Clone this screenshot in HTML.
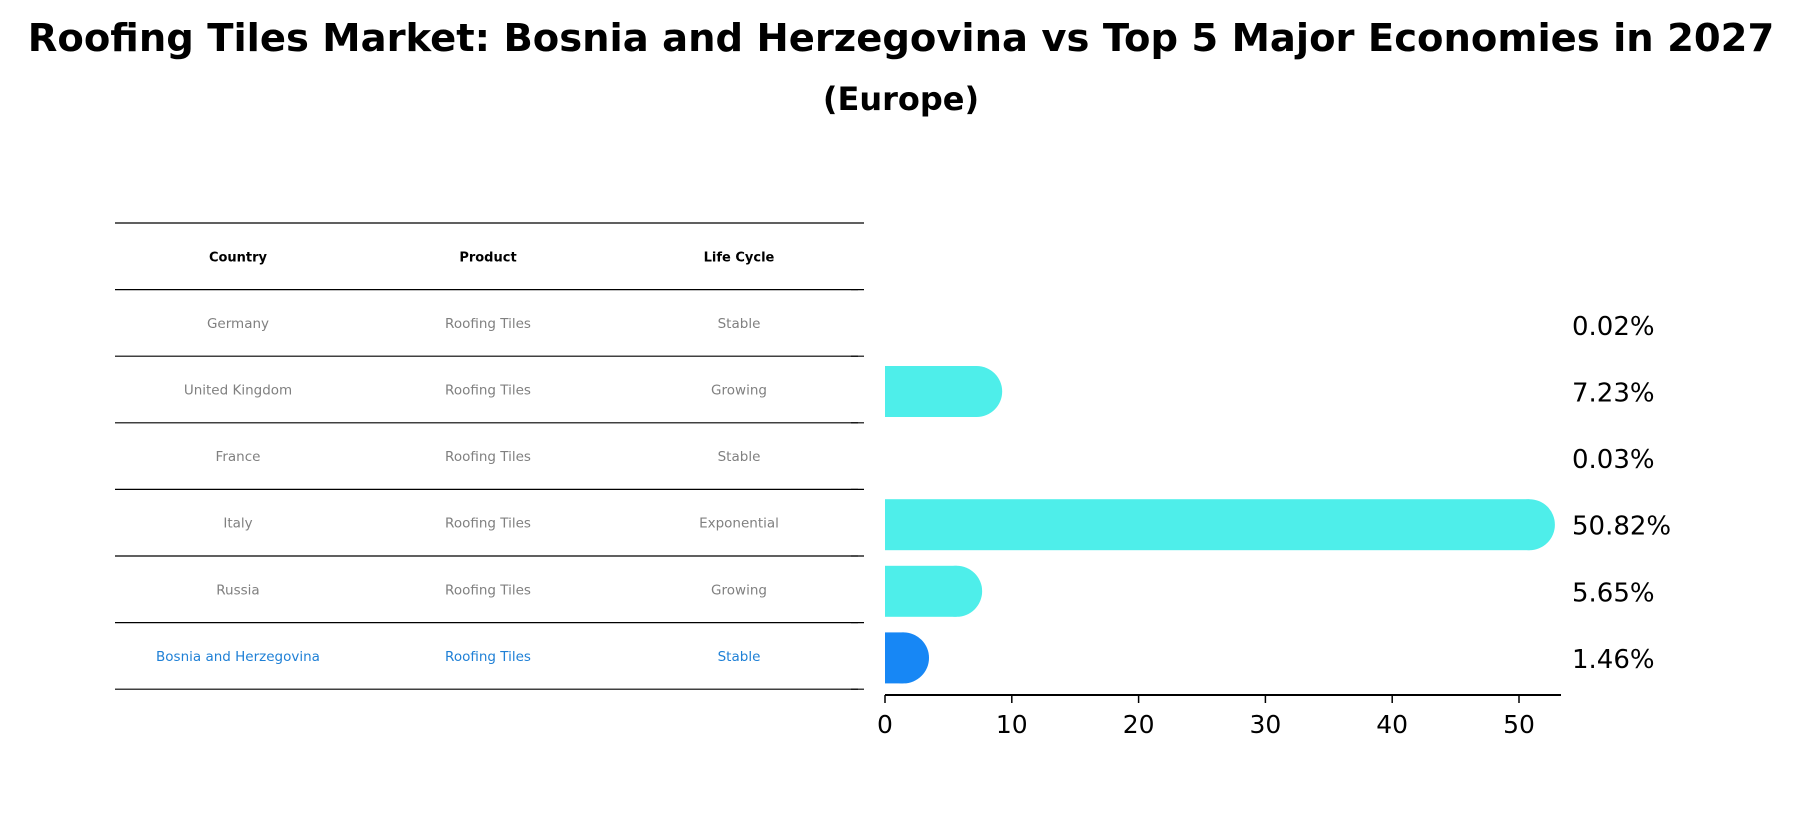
<!DOCTYPE html>
<html><head><meta charset="utf-8"><style>
body{margin:0;background:#fff;}
svg{display:block;font-family:"DejaVu Sans","Liberation Sans",sans-serif;}
</style></head><body>
<svg id="c" width="1802" height="823" viewBox="0 0 1802 823">
<text x="901" y="51" text-anchor="middle" font-size="38.5" font-weight="bold">Roofing Tiles Market: Bosnia and Herzegovina vs Top 5 Major Economies in 2027</text>
<text x="901" y="110" text-anchor="middle" font-size="32" font-weight="bold">(Europe)</text>
<g id="table"></g>
<g id="bars"></g>
</svg>
<script>
const countries=["Germany","United Kingdom","France","Italy","Russia","Bosnia and Herzegovina"];
const products=["Roofing Tiles","Roofing Tiles","Roofing Tiles","Roofing Tiles","Roofing Tiles","Roofing Tiles"];
const lifeCycles=["Stable","Growing","Stable","Exponential","Growing","Stable"];
const values=[0.02,7.23,0.03,50.82,5.65,1.46];
const labels=["0.02%","7.23%","0.03%","50.82%","5.65%","1.46%"];
const ticks=[0,10,20,30,40,50];
const NS="http://www.w3.org/2000/svg";
function mk(t,a,p){const e=document.createElementNS(NS,t);for(const k in a)e.setAttribute(k,a[k]);p.appendChild(e);return e;}
const tbl=document.getElementById('table'),bars=document.getElementById('bars');
const top0=223,rowH=66.6,colX=[238,488,739];
function rowY(i){return top0+rowH*(i+1.5);}
for(let i=0;i<=countries.length+1;i++){const l=mk('line',{x1:115,x2:864,y1:top0+rowH*i,y2:top0+rowH*i,stroke:'#000','stroke-width':1.2},tbl);

}
["Country","Product","Life Cycle"].forEach((h,j)=>{const t=mk('text',{x:colX[j],y:top0+rowH*0.5+5,'text-anchor':'middle','font-size':13,'font-weight':'bold'},tbl);t.textContent=h;

});
countries.forEach((c,i)=>{const last=i===countries.length-1;const col=last?'#1f80d6':'#808080';
[c,products[i],lifeCycles[i]].forEach((v,j)=>{const t=mk('text',{x:colX[j],y:rowY(i)+5,'text-anchor':'middle','font-size':13.5,fill:col},tbl);t.textContent=v;

});});
const x0=885,sc=(1519-885)/50,axY=695,bh=51;
function X(v){return x0+v*sc;}
countries.forEach((c,i)=>{const cy=rowY(i)+2,last=i===countries.length-1;const col=last?'#1787f5':'#4eeeea';
const g=mk('g',{},bars);
if(values[i]>0.5){
mk('rect',{x:x0,y:cy-bh/2,width:X(values[i])-x0,height:bh,fill:col},g);
mk('circle',{cx:X(values[i]),cy:cy,r:bh/2,fill:col},g);
mk('rect',{x:x0-bh,y:cy-bh/2-1,width:bh,height:bh+2,fill:'#fff'},g);}
const t=mk('text',{x:1572,y:cy+10,'font-size':26},bars);t.textContent=labels[i];

});
for(let i=0;i<=countries.length;i++){const y=top0+rowH*(i+1);const l=mk('line',{x1:851,x2:858,y1:y,y2:y,stroke:'#000','stroke-width':1.2},bars);

}
const ax=mk('line',{x1:x0,x2:1561,y1:axY,y2:axY,stroke:'#000','stroke-width':2},bars);


ticks.forEach(v=>{mk('line',{x1:X(v),x2:X(v),y1:axY,y2:axY+8,stroke:'#000','stroke-width':1.5},bars);
const t=mk('text',{x:X(v),y:axY+38,'text-anchor':'middle','font-size':25},bars);t.textContent=v;

});
</script>
</body></html>
